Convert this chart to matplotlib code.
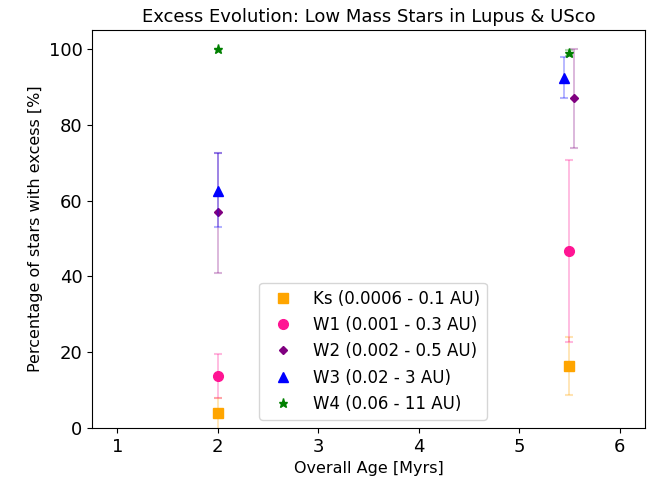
import numpy as np
import matplotlib
matplotlib.use('Agg')
import matplotlib.pyplot as plt

# ages [Myrs] and excess fractions [%] per band
labels = ['Ks (0.0006 - 0.1 AU)', 'W1 (0.001 - 0.3 AU)', 'W2 (0.002 - 0.5 AU)',
          'W3 (0.02 - 3 AU)', 'W4 (0.06 - 11 AU)']
ages = [[2.0, 5.5], [2.0, 5.5], [2.0, 5.55], [2.0, 5.45], [2.0, 5.5]]
vals = [[4.0, 16.3], [13.6, 46.7], [57.0, 87.0], [62.5, 92.3], [100.0, 98.9]]
err_lo = [[4.5, 7.7], [5.8, 24.1], [16.0, 13.1], [9.5, 5.3], [0.0, 0.8]]
err_hi = [[4.0, 7.8], [5.9, 23.9], [15.5, 13.0], [10.0, 5.5], [0.0, 0.8]]

colors = ['orange', 'deeppink', 'purple', 'blue', 'green']
markers = ['s', 'o', 'D', '^', '*']
msizes = [6.5, 7, 4, 7, 6.5]

fig = plt.figure(figsize=(6.64, 4.83), dpi=100)
ax = fig.add_axes([0.139, 0.114, 0.832, 0.824])

for lab, x, y, lo, hi, c, m, ms in zip(labels, ages, vals, err_lo, err_hi, colors, markers, msizes):
    ax.errorbar(x, y, yerr=[lo, hi], fmt='none', ecolor=c, alpha=0.3, capsize=3,
                elinewidth=1.3, capthick=1.5)
    ax.plot(x, y, ls='none', marker=m, color=c, ms=ms, label=lab)

ax.set_xlim(0.75, 6.25)
ax.set_ylim(0, 105)
ax.set_xticks([1, 2, 3, 4, 5, 6])
ax.tick_params(labelsize=13)
ax.set_xlabel('Overall Age [Myrs]', fontsize=11.5)
ax.set_ylabel('Percentage of stars with excess [%]', fontsize=11.5)
ax.set_title('Excess Evolution: Low Mass Stars in Lupus & USco', fontsize=13)
ax.legend(loc='lower center', fontsize=12, labelspacing=0.5, bbox_to_anchor=(0.508, 0.0))

fig.savefig('out.png', dpi=100)
